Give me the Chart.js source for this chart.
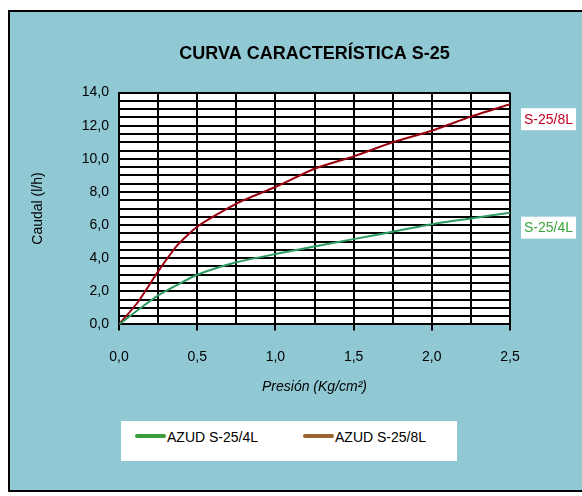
<!DOCTYPE html>
<html>
<head>
<meta charset="utf-8">
<script src="https://cdn.jsdelivr.net/npm/chart.js@4"></script>
<style>
  html, body { margin: 0; padding: 0; background: #ffffff; }
  #pagina { position: relative; width: 582px; height: 496px; overflow: hidden; }
  #marco { position: absolute; left: 8px; top: 10px; width: 590px; height: 478px; border: 2px solid #000; background: #90c9d4; }
  #lienzo { position: absolute; left: 0; top: 0; width: 582px; height: 496px; }
  #leyenda { position: absolute; left: 121px; top: 421px; width: 336px; height: 40px; background: #fff;
    font-family: "Liberation Sans", Arial, sans-serif; font-size: 14px; color: #000; }
  #leyenda span.item { position: absolute; top: 8px; white-space: nowrap; }
  #leyenda span.linea { display: inline-block; width: 31px; height: 4px; border-radius: 2px; vertical-align: middle; margin-right: 1px; position: relative; top: -2px; }
</style>
</head>
<body>
<div id="pagina">
  <div id="marco"></div>
  <canvas id="lienzo" width="582" height="496"></canvas>
  <div id="leyenda"></div>
</div>
<script>
// Datos
const presion = [0, 0.125, 0.25, 0.375, 0.5, 0.75, 1.0, 1.25, 1.5, 1.75, 2.0, 2.25, 2.5];
const caudal4L = [0, 0.9, 1.75, 2.4, 3.0, 3.75, 4.25, 4.7, 5.15, 5.6, 6.05, 6.4, 6.75];
const caudal8L = [0, 1.4, 3.2, 4.8, 5.9, 7.3, 8.3, 9.4, 10.15, 11.0, 11.7, 12.55, 13.3];
const etiquetasSerie = ["S-25/4L", "S-25/8L"];
const nombresLeyenda = ["AZUD S-25/4L", "AZUD S-25/8L"];
const coloresLinea = ["#2e9b62", "#9a0010"];
const coloresTexto = ["#3aa53a", "#c00020"];
const coloresLeyenda = ["#3c9c3c", "#9b6331"];

function puntos(ys) {
  return ys.map((y, i) => ({ x: presion[i], y: y }));
}

// etiquetas a la derecha, al final de cada curva
const etiquetasFinales = {
  id: "etiquetasFinales",
  afterDatasetsDraw(chart) {
    const c = chart.ctx;
    const xs = chart.scales.x, ys = chart.scales.y;
    c.save();
    c.font = '14px "Liberation Sans", Arial, sans-serif';
    c.textBaseline = "middle";
    chart.data.datasets.forEach((ds, i) => {
      const ult = ds.data[ds.data.length - 1];
      const y = ys.getPixelForValue(ult.y) + 15;
      const x = xs.right + 11;
      const w = c.measureText(etiquetasSerie[i]).width;
      c.fillStyle = "#fff";
      c.fillRect(x, y - 11, w + 6, 22);
      c.fillStyle = coloresTexto[i];
      c.fillText(etiquetasSerie[i], x + 3, y + 1);
    });
    c.restore();
  }
};

const ctx = document.getElementById("lienzo").getContext("2d");

const chart = new Chart(ctx, {
  type: "line",
  data: {
    datasets: [
      { label: nombresLeyenda[0], data: puntos(caudal4L), borderColor: coloresLinea[0], borderWidth: 2, pointRadius: 0, tension: 0.2, fill: false },
      { label: nombresLeyenda[1], data: puntos(caudal8L), borderColor: coloresLinea[1], borderWidth: 2, pointRadius: 0, tension: 0.2, fill: false }
    ]
  },
  options: {
    responsive: false,
    animation: false,
    layout: { padding: { left: 26, right: 72, top: 43, bottom: 96 } },
    plugins: {
      legend: { display: false },
      tooltip: { enabled: false },
      title: {
        display: true,
        fullSize: false,
        text: "CURVA CARACTERÍSTICA S-25",
        color: "#000",
        font: { family: '"Liberation Sans Narrow", "Liberation Sans", Arial, sans-serif', size: 18, weight: "bold" },
        padding: { top: 0, bottom: 28 }
      }
    },
    scales: {
      x: {
        type: "linear",
        min: 0,
        max: 2.5,
        ticks: {
          stepSize: 0.25,
          color: "#000",
          font: { family: '"Liberation Sans", Arial, sans-serif', size: 14 },
          maxRotation: 0,
          autoSkip: false,
          padding: 18,
          callback: (v) => (Math.abs(v * 2 - Math.round(v * 2)) < 1e-6 ? v.toFixed(1).replace(".", ",") : "")
        },
        grid: {
          color: "#000",
          lineWidth: 2,
          tickLength: 6,
          tickColor: (c) => (Math.abs(c.tick.value * 2 - Math.round(c.tick.value * 2)) < 1e-6 ? "#000" : "rgba(0,0,0,0)")
        },
        border: { color: "#000", width: 2 },
        title: {
          display: true,
          text: "Presión (Kg/cm²)",
          color: "#000",
          font: { family: '"Liberation Sans", Arial, sans-serif', size: 14, style: "italic" },
          padding: { top: -4 }
        }
      },
      y: {
        min: 0,
        max: 14,
        ticks: {
          stepSize: 0.5,
          color: "#000",
          font: { family: '"Liberation Sans", Arial, sans-serif', size: 14 },
          autoSkip: false,
          padding: 10,
          callback: (v) => (Math.abs(v / 2 - Math.round(v / 2)) < 1e-6 ? v.toFixed(1).replace(".", ",") : "")
        },
        grid: { color: "#000", lineWidth: 2, drawTicks: false },
        border: { color: "#000", width: 2 },
        title: {
          display: true,
          text: "Caudal (l/h)",
          color: "#000",
          font: { family: '"Liberation Sans", Arial, sans-serif', size: 14 },
          padding: { bottom: 25 }
        }
      }
    }
  },
  plugins: [
    {
      id: "fondoPlot",
      beforeDraw(chart) {
        const a = chart.chartArea;
        chart.ctx.save();
        chart.ctx.fillStyle = "#fff";
        chart.ctx.fillRect(a.left, a.top, a.right - a.left, a.bottom - a.top);
        chart.ctx.restore();
      }
    },
    etiquetasFinales
  ]
});

// leyenda
const leyenda = document.getElementById("leyenda");
const posLeyenda = [14, 182];
nombresLeyenda.forEach((n, i) => {
  const s = document.createElement("span");
  s.className = "item";
  s.style.left = posLeyenda[i] + "px";
  s.innerHTML = '<span class="linea" style="background:' + coloresLeyenda[i] + '"></span>' + n;
  leyenda.appendChild(s);
});
</script>
</body>
</html>
